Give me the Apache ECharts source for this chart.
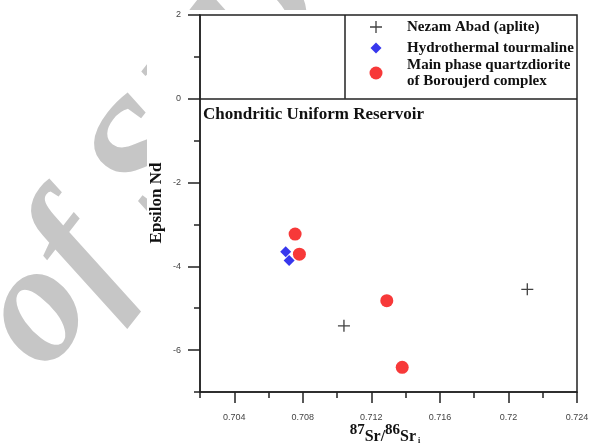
<!DOCTYPE html>
<html>
<head>
<meta charset="utf-8">
<script src="https://cdn.jsdelivr.net/npm/echarts@6/dist/echarts.min.js"></script>
<style>html,body{margin:0;padding:0;background:#fff}#c{width:592px;height:447px}</style>
</head>
<body>
<div id="c"></div>
<script>
// ---- data ----
var seriesNames = ['Nezam Abad (aplite)', 'Hydrothermal tourmaline', 'Main phase quartzdiorite of Boroujerd complex'];
var nezamX = [0.7104, 0.7211];
var nezamY = [-5.42, -4.55];
var tourmX = [0.7070, 0.7072];
var tourmY = [-3.65, -3.86];
var mainX = [0.70755, 0.7078, 0.7129, 0.7138];
var mainY = [-3.23, -3.71, -4.82, -6.41];
var xMajorTicks = [0.704, 0.708, 0.712, 0.716, 0.72, 0.724];
var yMajorTicks = [-6, -4, -2, 0, 2];
var churY = 0;          // CHUR reference line
var legendDividerX = 0.71046;

function pairs(xs, ys) { return xs.map(function (x, i) { return [x, ys[i]]; }); }

var serif = '"Liberation Serif", "Times New Roman", serif';
var sans = '"Liberation Sans", Arial, sans-serif';
var axisColor = '#222';
var plusPath = 'path://M4.45,0H5.55V4.45H10V5.55H5.55V10H4.45V5.55H0V4.45H4.45Z';

var chart = echarts.init(document.getElementById('c'), null, { renderer: 'canvas' });

function legendItem(name, size, top, extra) {
  var o = {
    data: [name], orient: 'vertical', padding: 0, left: 376 - size / 2, top: top,
    itemWidth: size, itemHeight: size, selectedMode: false,
    textStyle: { color: '#111', fontFamily: serif, fontWeight: 'bold', fontSize: 15, lineHeight: 16,
                 padding: [0, 0, 0, 26 - size / 2] }
  };
  if (extra) { for (var k in extra) o[k] = extra[k]; }
  return o;
}

var wmTheta = 52 * Math.PI / 180;
var wmSize = 170;
var wmBase = [52, 378];
var wmMid = [wmBase[0] - Math.sin(wmTheta) * 0.3 * wmSize, wmBase[1] - Math.cos(wmTheta) * 0.3 * wmSize];

var option = {
  animation: false,
  backgroundColor: '#fff',
  grid: { left: 200, right: 15, top: 15, bottom: 55, show: true, borderColor: axisColor, borderWidth: 1.5, backgroundColor: 'transparent' },
  xAxis: [{
    type: 'value', gridIndex: 0, position: 'bottom', min: 0.702, max: 0.724, interval: 0.002,
    axisLine: { show: true, onZero: false, lineStyle: { color: axisColor, width: 1.5 } },
    axisTick: { show: true, length: 6, lineStyle: { color: axisColor, width: 1.5 } },
    axisLabel: {
      show: true, margin: 21, color: '#444', fontFamily: sans, fontSize: 9,
      formatter: function (v) {
        var k = Math.round(v * 1000);
        return (k % 4 === 0 && k >= 704) ? String(+(v).toFixed(3)) : '';
      }
    },
    splitLine: { show: false }
  }, {
    type: 'value', gridIndex: 0, position: 'bottom', min: 0.702, max: 0.724, interval: 0.002,
    axisLine: { show: false, onZero: false },
    axisTick: { show: true, length: 11, customValues: xMajorTicks, lineStyle: { color: axisColor, width: 1.5 } },
    axisLabel: { show: false },
    splitLine: { show: false }
  }],
  yAxis: [{
    type: 'value', gridIndex: 0, position: 'left', min: -7, max: 2, interval: 1,
    axisLine: { show: true, onZero: false, lineStyle: { color: axisColor, width: 1.5 } },
    axisTick: { show: true, length: 6, lineStyle: { color: axisColor, width: 1.5 } },
    axisLabel: {
      show: true, margin: 19, color: '#444', fontFamily: sans, fontSize: 9,
      formatter: function (v) { return (Math.round(v) % 2 === 0) ? String(Math.round(v)) : ''; }
    },
    splitLine: { show: false }
  }, {
    type: 'value', gridIndex: 0, position: 'left', min: -7, max: 2, interval: 1,
    axisLine: { show: false, onZero: false },
    axisTick: { show: true, length: 12, customValues: yMajorTicks, lineStyle: { color: axisColor, width: 1.5 } },
    axisLabel: { show: false },
    splitLine: { show: false }
  }],
  legend: [
    legendItem(seriesNames[0], 12, 19),
    legendItem(seriesNames[1], 11, 40),
    legendItem(seriesNames[2], 13, 57, { formatter: function () { return 'Main phase quartzdiorite\nof Boroujerd complex'; } })
  ],
  series: [{
    name: seriesNames[0], type: 'scatter', xAxisIndex: 0, yAxisIndex: 0,
    symbol: plusPath, symbolSize: 12,
    itemStyle: { color: '#111' },
    data: pairs(nezamX, nezamY),
    markLine: {
      silent: true, symbol: 'none', label: { show: false }, animation: false,
      lineStyle: { color: axisColor, width: 1.5, type: 'solid' },
      data: [
        { yAxis: churY },
        [{ coord: [legendDividerX, churY] }, { coord: [legendDividerX, 2] }]
      ]
    }
  }, {
    name: seriesNames[1], type: 'scatter', xAxisIndex: 0, yAxisIndex: 0,
    symbol: 'diamond', symbolSize: 11,
    itemStyle: { color: '#0505e8' },
    data: pairs(tourmX, tourmY)
  }, {
    name: seriesNames[2], type: 'scatter', xAxisIndex: 0, yAxisIndex: 0,
    symbol: 'circle', symbolSize: 13,
    itemStyle: { color: '#f50808' },
    data: pairs(mainX, mainY)
  }],
  graphic: [{
    type: 'text', x: wmMid[0], y: wmMid[1], rotation: wmTheta, z: -10, silent: true,
    style: { text: 'of SID', fill: '#c6c6c6', font: 'italic bold ' + wmSize + 'px ' + serif, align: 'left', verticalAlign: 'middle' }
  }, {
    type: 'rect', z: -5, silent: true,
    shape: { x: 147, y: 10, width: 445, height: 437 },
    style: { fill: '#fff' }
  }, {
    type: 'text', left: 203, top: 106, silent: true,
    style: { text: 'Chondritic Uniform Reservoir', fill: '#111', font: 'bold 17px ' + serif }
  }, {
    type: 'text', x: 157, y: 203, rotation: Math.PI / 2, silent: true,
    style: { text: 'Epsilon Nd', fill: '#111', font: 'bold 17px ' + serif, align: 'center', verticalAlign: 'middle' }
  }, {
    type: 'text', x: 385, y: 434, silent: true,
    style: {
      text: '{a|87}{b|Sr/}{a|86}{b|Sr}{c| i}', align: 'center', verticalAlign: 'middle', fill: '#111',
      rich: {
        a: { fontFamily: serif, fontWeight: 'bold', fontSize: 15, lineHeight: 15, verticalAlign: 'top', fill: '#111' },
        b: { fontFamily: serif, fontWeight: 'bold', fontSize: 16, lineHeight: 22, verticalAlign: 'bottom', fill: '#111' },
        c: { fontFamily: serif, fontWeight: 'bold', fontSize: 8, lineHeight: 10, verticalAlign: 'bottom', fill: '#111' }
      }
    }
  }]
};
chart.setOption(option);
</script>
</body>
</html>
